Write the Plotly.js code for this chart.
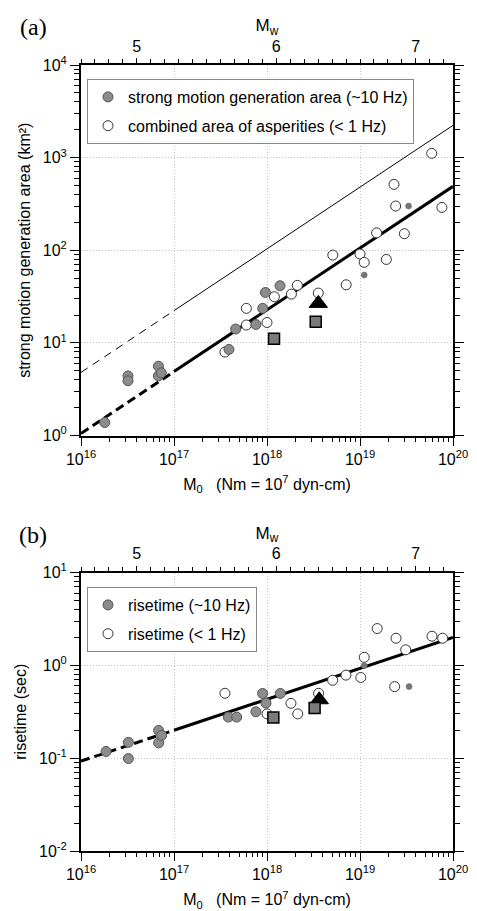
<!DOCTYPE html>
<html><head><meta charset="utf-8">
<script src="https://cdn.plot.ly/plotly-3.0.1.min.js"></script>
<style>html,body{margin:0;padding:0;background:#fff}#chart{width:477px;height:911px}</style>
</head><body><div id="chart"></div>
<script>
// ---------- Panel (a): strong motion generation area (km^2) vs M0 ----------
const smgaM0 = [1.8e16, 3.2e16, 3.2e16, 6.8e16, 6.8e16, 7.3e16, 3.9e17, 4.6e17, 7.6e17, 9.0e17, 9.6e17, 1.38e18];
const smgaArea = [1.38, 4.4, 3.9, 5.6, 4.4, 4.75, 8.5, 14.1, 15.8, 23.6, 35, 41.4];
const smgaSmallM0 = [1.11e19, 3.33e19];
const smgaSmallArea = [54, 300];
const asperM0 = [3.53e17, 6.0e17, 6.0e17, 1.0e18, 1.2e18, 1.83e18, 2.12e18, 3.56e18, 5.1e18, 7.1e18, 1.0e19, 1.11e19, 1.51e19, 1.92e19, 2.32e19, 2.42e19, 3.0e19, 5.9e19, 7.6e19];
const asperArea = [7.96, 23.6, 15.6, 16.6, 31.5, 33.6, 41.8, 34.5, 88.7, 42.4, 91, 74, 154, 79.6, 514, 300, 151, 1112, 290];
const squareM0A = [1.19e18, 3.34e18];
const squareAreaA = [11.1, 16.9];
const triangleM0A = [3.56e18];
const triangleAreaA = [26.7];
// scaling lines (dashed part, solid part)
const thickLineM0 = [1e16, 1e17, 1e20];
const thickLineArea = [1.05, 4.9, 490];
const thinLineM0 = [1e16, 1e17, 1e20];
const thinLineArea = [4.8, 22.3, 2230];

// ---------- Panel (b): risetime (sec) vs M0 ----------
const riseGrayM0 = [1.86e16, 3.23e16, 3.23e16, 6.84e16, 6.84e16, 7.36e16, 3.84e17, 4.72e17, 7.6e17, 8.98e17, 9.75e17, 1.39e18];
const riseGray = [0.118, 0.148, 0.099, 0.199, 0.146, 0.176, 0.277, 0.277, 0.316, 0.498, 0.392, 0.498];
const riseSmallM0 = [1.11e19, 3.37e19];
const riseSmall = [0.99, 0.59];
const riseOpenM0 = [3.53e17, 1.0e18, 1.81e18, 2.14e18, 3.59e18, 5.08e18, 7.06e18, 1.02e19, 1.11e19, 1.53e19, 2.36e19, 2.44e19, 3.1e19, 5.94e19, 7.74e19];
const riseOpen = [0.50, 0.30, 0.39, 0.30, 0.50, 0.69, 0.785, 0.74, 1.22, 2.49, 0.59, 1.96, 1.47, 2.06, 1.96];
const squareM0B = [1.17e18, 3.25e18];
const squareRiseB = [0.275, 0.347];
const triangleM0B = [3.65e18];
const triangleRiseB = [0.426];
const riseLineM0 = [1e16, 1e17, 1e20];
const riseLine = [0.093, 0.2, 2.0];

// ---------- tick labels ----------
const m0TickVals = [1e16, 1e17, 1e18, 1e19, 1e20];
const m0TickText = ['10<sup>16</sup>', '10<sup>17</sup>', '10<sup>18</sup>', '10<sup>19</sup>', '10<sup>20</sup>'];
const areaTickVals = [1, 10, 100, 1000, 10000];
const areaTickText = ['10<sup>0</sup>', '10<sup>1</sup>', '10<sup>2</sup>', '10<sup>3</sup>', '10<sup>4</sup>'];
const riseTickVals = [0.01, 0.1, 1, 10];
const riseTickText = ['10<sup>-2</sup>', '10<sup>-1</sup>', '10<sup>0</sup>', '10<sup>1</sup>'];
const mwTickVals = [5, 6, 7];
const mwTickText = ['5', '6', '7'];

const FONT = 'Liberation Sans, Arial, sans-serif';
const grayFill = '#8c8c8c', grayEdge = '#555555';
const MS = 10;

function seg(x, y, i0, i1) { return {x: x.slice(i0, i1 + 1), y: y.slice(i0, i1 + 1)}; }

const traces = [];
// empty traces so the top Mw axes are drawn
traces.push({x: [], y: [], xaxis: 'x2', yaxis: 'y', mode: 'markers', showlegend: false, hoverinfo: 'skip'});
traces.push({x: [], y: [], xaxis: 'x4', yaxis: 'y2', mode: 'markers', showlegend: false, hoverinfo: 'skip'});
// panel a lines
let s;
s = seg(thinLineM0, thinLineArea, 0, 1);
traces.push({x: s.x, y: s.y, xaxis: 'x', yaxis: 'y', mode: 'lines', line: {color: '#000', width: 1, dash: '8px,6px'}, showlegend: false, hoverinfo: 'skip'});
s = seg(thinLineM0, thinLineArea, 1, 2);
traces.push({x: s.x, y: s.y, xaxis: 'x', yaxis: 'y', mode: 'lines', line: {color: '#000', width: 1}, showlegend: false, hoverinfo: 'skip'});
s = seg(thickLineM0, thickLineArea, 0, 1);
traces.push({x: s.x, y: s.y, xaxis: 'x', yaxis: 'y', mode: 'lines', line: {color: '#000', width: 3, dash: '9px,5px'}, showlegend: false, hoverinfo: 'skip'});
s = seg(thickLineM0, thickLineArea, 1, 2);
traces.push({x: s.x, y: s.y, xaxis: 'x', yaxis: 'y', mode: 'lines', line: {color: '#000', width: 3}, showlegend: false, hoverinfo: 'skip'});
// panel a markers
traces.push({x: asperM0, y: asperArea, xaxis: 'x', yaxis: 'y', mode: 'markers', name: 'combined area of asperities (< 1 Hz)',
  marker: {symbol: 'circle', size: MS, color: '#fff', line: {color: '#333', width: 1}}, legend: 'legend', legendrank: 2, legendgroup: 'a2'});
traces.push({x: smgaM0, y: smgaArea, xaxis: 'x', yaxis: 'y', mode: 'markers', name: 'strong motion generation area (~10 Hz)',
  marker: {symbol: 'circle', size: MS, color: grayFill, line: {color: grayEdge, width: 1}}, legend: 'legend', legendrank: 1, legendgroup: 'a1'});
traces.push({x: smgaSmallM0, y: smgaSmallArea, xaxis: 'x', yaxis: 'y', mode: 'markers', showlegend: false,
  marker: {symbol: 'circle', size: 6, color: '#777', line: {color: '#666', width: 0.5}}});
traces.push({x: triangleM0A, y: triangleAreaA, xaxis: 'x', yaxis: 'y', mode: 'markers', showlegend: false,
  marker: {symbol: 'triangle-up', size: 16, color: '#000', line: {color: '#000', width: 1}}});
traces.push({x: squareM0A, y: squareAreaA, xaxis: 'x', yaxis: 'y', mode: 'markers', showlegend: false,
  marker: {symbol: 'square', size: 11, color: '#7a7a7a', line: {color: '#000', width: 1.5}}});

// panel b lines
s = seg(riseLineM0, riseLine, 0, 1);
traces.push({x: s.x, y: s.y, xaxis: 'x3', yaxis: 'y2', mode: 'lines', line: {color: '#000', width: 3, dash: '9px,5px'}, showlegend: false, hoverinfo: 'skip'});
s = seg(riseLineM0, riseLine, 1, 2);
traces.push({x: s.x, y: s.y, xaxis: 'x3', yaxis: 'y2', mode: 'lines', line: {color: '#000', width: 3}, showlegend: false, hoverinfo: 'skip'});
traces.push({x: riseOpenM0, y: riseOpen, xaxis: 'x3', yaxis: 'y2', mode: 'markers', name: 'risetime (< 1 Hz)',
  marker: {symbol: 'circle', size: MS, color: '#fff', line: {color: '#333', width: 1}}, legend: 'legend2', legendrank: 2, legendgroup: 'b2'});
traces.push({x: riseGrayM0, y: riseGray, xaxis: 'x3', yaxis: 'y2', mode: 'markers', name: 'risetime (~10 Hz)',
  marker: {symbol: 'circle', size: MS, color: grayFill, line: {color: grayEdge, width: 1}}, legend: 'legend2', legendrank: 1, legendgroup: 'b1'});
traces.push({x: riseSmallM0, y: riseSmall, xaxis: 'x3', yaxis: 'y2', mode: 'markers', showlegend: false,
  marker: {symbol: 'circle', size: 6, color: '#777', line: {color: '#666', width: 0.5}}});
traces.push({x: triangleM0B, y: triangleRiseB, xaxis: 'x3', yaxis: 'y2', mode: 'markers', showlegend: false,
  marker: {symbol: 'triangle-up', size: 16, color: '#000', line: {color: '#000', width: 1}}});
traces.push({x: squareM0B, y: squareRiseB, xaxis: 'x3', yaxis: 'y2', mode: 'markers', showlegend: false,
  marker: {symbol: 'square', size: 11, color: '#7a7a7a', line: {color: '#000', width: 1.5}}});

// Mw = (2/3)(log10 M0 - 9.1): the top axis range follows the M0 range
const mwLo = (2 / 3) * (16 - 9.1), mwHi = (2 / 3) * (20 - 9.1);

const tickFont = {family: FONT, size: 16, color: '#000'};
const titleFont = {family: FONT, size: 16, color: '#000'};
const GRID = '#c4c4c4';

function m0Axis(anchor) {
  return {type: 'log', range: [16, 20], anchor: anchor, tickmode: 'array', tickvals: m0TickVals, ticktext: m0TickText,
    ticks: 'outside', ticklen: 8, tickwidth: 1, tickcolor: '#000', showline: true, linewidth: 2, linecolor: '#000', mirror: true,
    showgrid: true, gridcolor: GRID, griddash: '1px,2px', gridwidth: 1, zeroline: false, tickfont: tickFont,
    minor: {dtick: 'D1', ticks: 'outside', ticklen: 4, tickwidth: 1, tickcolor: '#000', showgrid: false},
    title: {text: 'M<sub>0</sub>   (Nm = 10<sup>7</sup> dyn-cm)', font: titleFont, standoff: 12}, automargin: false};
}
function mwAxis(over, anchor) {
  return {overlaying: over, anchor: anchor, side: 'top', range: [mwLo, mwHi], tickmode: 'array', tickvals: mwTickVals, ticktext: mwTickText,
    ticks: 'outside', ticklen: 6, tickwidth: 1, tickcolor: '#000', showline: false, showgrid: false, zeroline: false, tickfont: tickFont,
    minor: {dtick: 0.1, ticks: 'outside', ticklen: 5, tickwidth: 1, tickcolor: '#000', showgrid: false},
    title: {text: 'M<sub>w</sub>', font: {family: FONT, size: 17, color: '#000'}, standoff: 0}, automargin: false};
}
function yAxis(anchor, domain, range, vals, text, title) {
  return {type: 'log', domain: domain, anchor: anchor, range: range, tickmode: 'array', tickvals: vals, ticktext: text,
    ticks: 'outside', ticklen: 9, tickwidth: 1, tickcolor: '#000', showline: true, linewidth: 2, linecolor: '#000', mirror: 'ticks',
    showgrid: true, gridcolor: GRID, griddash: '1px,2px', gridwidth: 1, zeroline: false, tickfont: tickFont,
    minor: {dtick: 'D1', ticks: 'outside', ticklen: 5, tickwidth: 1, tickcolor: '#000', showgrid: false},
    title: {text: title, font: titleFont, standoff: 8}, automargin: false};
}

const legendBase = {xanchor: 'left', yanchor: 'top', bordercolor: '#888', borderwidth: 1, bgcolor: '#fff',
  font: {family: FONT, size: 16, color: '#000'}, traceorder: 'grouped', tracegroupgap: 5};

const layout = {
  width: 477, height: 911,
  margin: {l: 81, r: 24, t: 65, b: 60},
  paper_bgcolor: '#fff', plot_bgcolor: '#fff',
  font: {family: FONT, size: 16, color: '#000'},
  xaxis: m0Axis('y'),
  xaxis2: mwAxis('x', 'y'),
  xaxis3: m0Axis('y2'),
  xaxis4: mwAxis('x3', 'y2'),
  yaxis: yAxis('x', [0.5286, 1], [0, 4], areaTickVals, areaTickText, 'strong motion generation area (km²)'),
  yaxis2: yAxis('x3', [0, 0.3543], [-2, 1], riseTickVals, riseTickText, 'risetime (sec)'),
  legend: Object.assign({x: 0.0161, y: 0.9822}, legendBase),
  legend2: Object.assign({x: 0.0161, y: 0.3359}, legendBase),
  showlegend: true,
  annotations: [
    {text: '(a)', xref: 'paper', yref: 'paper', x: -0.129, y: 1.0483, xanchor: 'center', yanchor: 'middle', showarrow: false,
      font: {family: 'Liberation Serif, Times New Roman, serif', size: 24, color: '#000'}},
    {text: '(b)', xref: 'paper', yref: 'paper', x: -0.129, y: 0.402, xanchor: 'center', yanchor: 'middle', showarrow: false,
      font: {family: 'Liberation Serif, Times New Roman, serif', size: 24, color: '#000'}}
  ]
};

Plotly.newPlot('chart', traces, layout, {staticPlot: true, displayModeBar: false});
</script>
</body></html>
